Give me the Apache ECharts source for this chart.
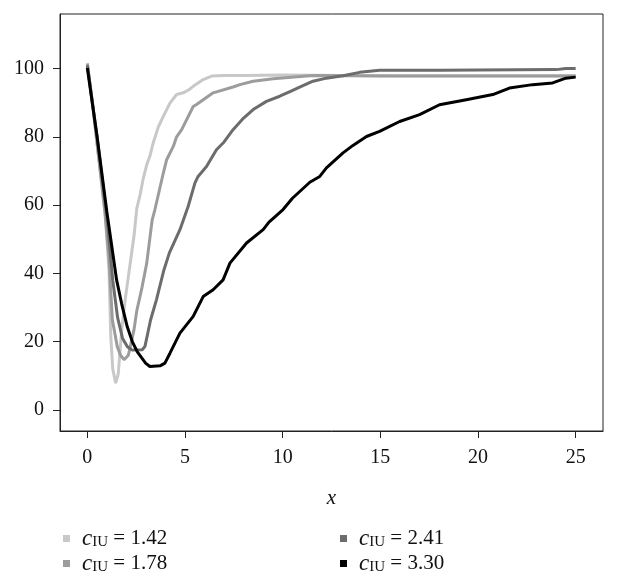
<!DOCTYPE html>
<html>
<head>
<meta charset="utf-8">
<script src="https://cdn.jsdelivr.net/npm/echarts@6/dist/echarts.min.js"></script>
<style>
  html, body { margin: 0; padding: 0; background: #fff; }
  #main { width: 618px; height: 583px; }
</style>
</head>
<body>
<div id="main"></div>
<script>
// 曲线数据
var names = ['1.42', '1.78', '2.41', '3.30'];
var colors = ['#c8c8c8', '#9c9c9c', '#6c6c6c', '#000000'];

var x142 = [0, 0.3, 0.6, 0.9, 1.11, 1.2, 1.3, 1.45, 1.58, 1.76, 1.93, 2.05, 2.22, 2.39, 2.53, 2.7, 2.87, 3.05, 3.2, 3.37, 3.64, 3.89, 4.23, 4.57, 4.91, 5.2, 5.42, 5.93, 6.36, 7, 8, 10, 13, 16, 20, 25];
var y142 = [101.5, 88, 73, 58, 41, 21.5, 12, 7.8, 10.5, 23.5, 32, 37, 44, 51, 59, 63, 68, 72, 74.3, 78.2, 83, 86, 89.9, 92.4, 92.9, 93.8, 94.8, 96.8, 97.8, 98, 98, 98.1, 98, 97.9, 97.9, 97.9];

var x178 = [0, 0.3, 0.6, 0.9, 1.1, 1.28, 1.53, 1.7, 1.88, 2.1, 2.39, 2.53, 2.81, 3.04, 3.32, 3.46, 3.89, 4.06, 4.4, 4.57, 4.83, 5.42, 5.59, 6.44, 7.46, 7.81, 8.49, 9.51, 11.39, 11.9, 15, 20, 25];
var y178 = [101.5, 88, 73, 58, 45, 26.4, 18.6, 16, 14.7, 16, 23.5, 29, 36.2, 43, 55.7, 58.7, 69.4, 73.3, 77.2, 80, 82.1, 88.9, 89.5, 92.9, 94.6, 95.3, 96.3, 97, 97.9, 98, 97.8, 97.8, 97.8];

var x241 = [0, 0.5, 1.05, 1.3, 1.55, 1.8, 2.05, 2.3, 2.81, 2.95, 3.24, 3.54, 3.92, 4.2, 4.74, 5.16, 5.51, 5.67, 6.1, 6.61, 7, 7.46, 8, 8.49, 9.17, 9.85, 10.4, 10.87, 11.55, 12.24, 13.09, 13.94, 14.96, 18, 20, 24, 24.5, 25];
var y241 = [101, 80, 54, 38, 27, 21, 18.5, 17.5, 17.6, 18.6, 26.4, 32.3, 41, 46, 52.8, 59.6, 66.5, 68.4, 71.3, 76.2, 78.5, 82.1, 85.5, 88, 90.4, 91.9, 93.3, 94.6, 96.3, 97.2, 97.9, 98.9, 99.5, 99.5, 99.6, 99.7, 100, 100];

var x330 = [0, 0.5, 1.0, 1.5, 1.76, 2.04, 2.3, 2.56, 2.98, 3.2, 3.72, 3.97, 4.23, 4.74, 5.42, 5.93, 6.44, 6.95, 7.3, 8.15, 9, 9.3, 10.02, 10.5, 11.39, 11.9, 12.24, 13.09, 13.6, 14.29, 14.96, 15.99, 17.01, 18.03, 19.4, 20.76, 21.61, 22.8, 23.82, 24.5, 25];
var y330 = [100.2, 80, 58, 38, 31, 24.4, 20, 17, 13.7, 12.7, 12.9, 13.7, 16.6, 22.5, 27.4, 33.2, 35.2, 38.1, 43, 48.9, 52.8, 55, 58.7, 62, 66.7, 68.4, 70.9, 75.3, 77.5, 80.1, 81.6, 84.5, 86.5, 89.4, 90.9, 92.4, 94.3, 95.3, 95.8, 97.2, 97.5];

var xTicks = [0, 5, 10, 15, 20, 25];
var yTicks = [0, 20, 40, 60, 80, 100];

function zip(xs, ys) {
  return xs.map(function (x, i) { return [x, ys[i]]; });
}

var allX = [x142, x178, x241, x330];
var allY = [y142, y178, y241, y330];

var myChart = echarts.init(document.getElementById('main'));

var serif = "'Liberation Serif', 'DejaVu Serif', serif";
var legendText = {
  fontFamily: serif,
  fontSize: 21,
  color: '#111',
  rich: {
    i: { fontFamily: serif, fontStyle: 'italic', fontSize: 23, color: '#111', padding: [0, 0, 0, 7] },
    s: { fontFamily: serif, fontSize: 15, color: '#111', padding: [8, 0, 0, 0] },
    t: { fontFamily: serif, fontSize: 21, color: '#111' }
  }
};

var option = {
  animation: false,
  backgroundColor: '#fff',
  grid: {
    left: 60, right: 15, top: 14, bottom: 152,
    show: true, borderColor: '#222', borderWidth: 1
  },
  xAxis: {
    type: 'value',
    min: -1.4, max: 26.4,
    name: 'x',
    nameLocation: 'middle',
    nameGap: 57,
    nameTextStyle: { fontFamily: serif, fontStyle: 'italic', fontSize: 21, color: '#111' },
    axisLine: { show: true, onZero: false, lineStyle: { color: '#222', width: 1 } },
    axisTick: { show: true, length: 7, customValues: xTicks, lineStyle: { color: '#222' } },
    axisLabel: { customValues: xTicks, margin: 17, fontFamily: serif, fontSize: 20, color: '#111' },
    splitLine: { show: false }
  },
  yAxis: {
    type: 'value',
    min: -6.2, max: 116,
    axisLine: { show: true, onZero: false, lineStyle: { color: '#222', width: 1 } },
    axisTick: { show: true, length: 7, customValues: yTicks, lineStyle: { color: '#222' } },
    axisLabel: { customValues: yTicks, margin: 16, fontFamily: serif, fontSize: 20, color: '#111' },
    splitLine: { show: false }
  },
  legend: [
    {
      data: [names[0], names[1]],
      orient: 'vertical', left: 58, top: 522,
      itemWidth: 7, itemHeight: 7, icon: 'rect', itemGap: 2,
      formatter: '{i|c}{s|IU}{t| = {name}}',
      textStyle: legendText
    },
    {
      data: [names[2], names[3]],
      orient: 'vertical', left: 335, top: 522,
      itemWidth: 7, itemHeight: 7, icon: 'rect', itemGap: 2,
      formatter: '{i|c}{s|IU}{t| = {name}}',
      textStyle: legendText
    }
  ],
  series: names.map(function (n, i) {
    return {
      name: n,
      type: 'line',
      data: zip(allX[i], allY[i]),
      showSymbol: false,
      color: colors[i],
      lineStyle: { width: 3, color: colors[i] }
    };
  })
};

myChart.setOption(option);
</script>
</body>
</html>
